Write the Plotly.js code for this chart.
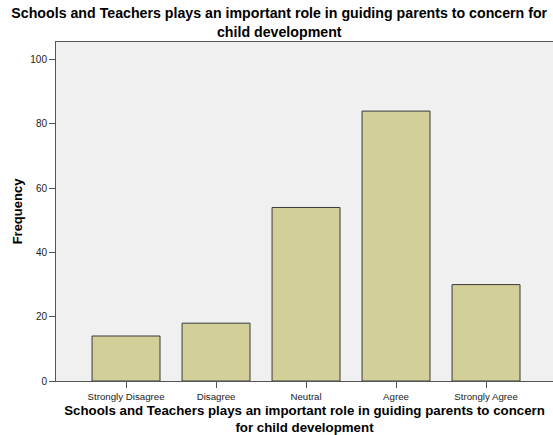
<!DOCTYPE html>
<html>
<head>
<meta charset="utf-8">
<script src="https://cdn.plot.ly/plotly-3.0.1.min.js"></script>
<style>html,body{margin:0;padding:0;background:#fff;}#chart{width:553px;height:435px;}</style>
</head>
<body>
<div id="chart"></div>
<script>
const categories = ["Strongly Disagree", "Disagree", "Neutral", "Agree", "Strongly Agree"];
const frequency = [14, 18, 54, 84, 30];
const yTicks = [0, 20, 40, 60, 80, 100];
const chartTitle = "Schools and Teachers plays an important role in guiding parents to concern for<br>child development";
const xTitle = "Schools and Teachers plays an important role in guiding parents to concern<br>for child development";
const yTitle = "Frequency";

const trace = {
  type: "bar",
  x: categories,
  y: frequency,
  width: 0.755,
  marker: {color: "#d3cf98", line: {color: "#3a3a3a", width: 1}},
  hoverinfo: "none"
};

const layout = {
  width: 553, height: 435,
  margin: {l: 56, r: 0, t: 42, b: 54},
  paper_bgcolor: "#ffffff",
  plot_bgcolor: "#f0f0f0",
  showlegend: false,
  font: {family: "Liberation Sans, Arial, sans-serif", color: "#222"},
  title: {
    text: chartTitle,
    font: {size: 14.2, color: "#000", family: "Liberation Sans, Arial, sans-serif", weight: "bold"},
    x: 0.505, xanchor: "center", xref: "container",
    y: 0.958, yanchor: "top", yref: "container"
  },
  xaxis: {
    type: "category",
    range: [-0.778, 4.744],
    showgrid: false, zeroline: false,
    showline: true, linecolor: "#555", linewidth: 1, mirror: true,
    ticks: "outside", ticklen: 6, tickcolor: "#555", tickwidth: 1,
    tickfont: {size: 9.7, color: "#222"},
    title: {text: xTitle, standoff: 10, font: {size: 13.3, color: "#000", weight: "bold"}},
    fixedrange: true
  },
  yaxis: {
    range: [0, 105.5],
    tickvals: yTicks,
    showgrid: false, zeroline: false,
    showline: true, linecolor: "#555", linewidth: 1,
    ticks: "outside", ticklen: 6, tickcolor: "#555", tickwidth: 1,
    tickfont: {size: 10, color: "#222"},
    title: {text: yTitle, standoff: 4, font: {size: 13, color: "#000", weight: "bold"}},
    fixedrange: true
  }
};

Plotly.newPlot("chart", [trace], layout, {displayModeBar: false, staticPlot: true});
</script>
</body>
</html>
